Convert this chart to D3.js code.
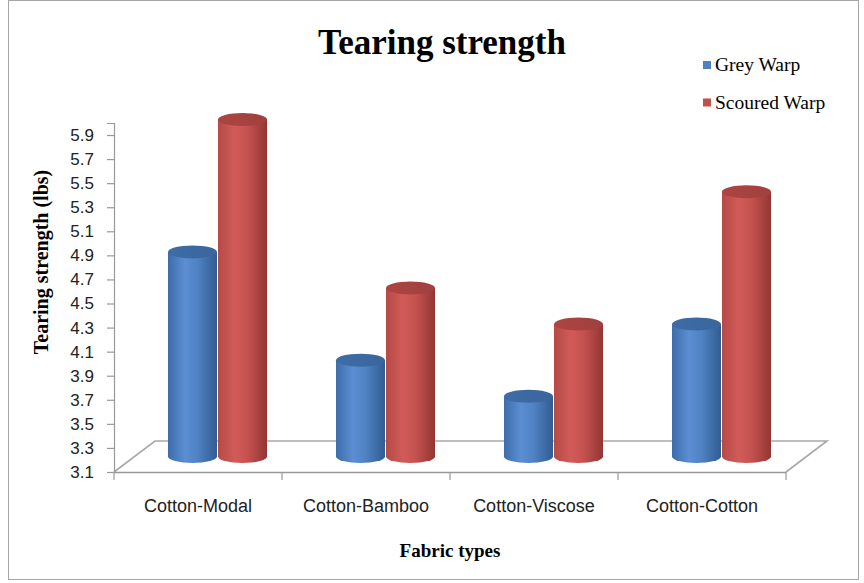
<!DOCTYPE html>
<html>
<head>
<meta charset="utf-8">
<script src="https://cdn.jsdelivr.net/npm/d3@7"></script>
<style>
  body { margin: 0; background: #fff; }
  svg { display: block; }
</style>
</head>
<body>
<div id="chart"></div>
<script>
// data
const fabrics = ["Cotton-Modal", "Cotton-Bamboo", "Cotton-Viscose", "Cotton-Cotton"];
const series = ["Grey Warp", "Scoured Warp"];
const greyWarp = [4.8, 3.9, 3.6, 4.2];
const scouredWarp = [5.9, 4.5, 4.2, 5.3];
const yTicks = [3.1, 3.3, 3.5, 3.7, 3.9, 4.1, 4.3, 4.5, 4.7, 4.9, 5.1, 5.3, 5.5, 5.7, 5.9];

const width = 864, height = 583;
const depth = { dx: 41, dy: -31 };   // floor depth offset
const rx = 24.5, ry = 6.5;

const svg = d3.select("#chart").append("svg")
    .attr("width", width)
    .attr("height", height);

// gradients for cylinders
const defs = svg.append("defs");
function bodyGrad(id, stops) {
    let g = defs.append("linearGradient").attr("id", id)
        .attr("x1", "0%").attr("x2", "100%").attr("y1", "0%").attr("y2", "0%");
    stops.forEach(s => g.append("stop").attr("offset", s[0]).attr("stop-color", s[1]));
}
bodyGrad("blueBody", [["0%", "#3d6caa"], ["35%", "#5b8ed2"], ["60%", "#5083c3"], ["100%", "#305c93"]]);
bodyGrad("redBody", [["0%", "#b54a47"], ["35%", "#d25b58"], ["60%", "#c5524f"], ["100%", "#923634"]]);
bodyGrad("blueTop", [["0%", "#3e6ca5"], ["100%", "#3a669d"]]);
bodyGrad("redTop", [["0%", "#ad4542"], ["100%", "#a0403e"]]);

// chart border
svg.append("rect")
    .attr("x", 8.5).attr("y", 0.5)
    .attr("width", 850).attr("height", 579)
    .attr("fill", "none")
    .attr("stroke", "#a6a6a6");

const x = d3.scaleBand()
    .domain(fabrics)
    .range([114, 786]);

const xs = d3.scaleBand()
    .domain(series)
    .range([-50, 50]);

const y = d3.scaleLinear()
    .domain([3.1, 6.0])
    .range([472, 472 - 14.5 * 24.07]);

// floor
const y0 = y(3.1);
svg.append("path")
    .attr("d", `M${x.range()[0]},${y0} L${x.range()[0] + depth.dx},${y0 + depth.dy} L${x.range()[1] + depth.dx},${y0 + depth.dy} L${x.range()[1]},${y0}`)
    .attr("fill", "none")
    .attr("stroke", "#a8a8a8")
    .attr("stroke-width", 1.6);

// y axis
let yAxis = d3.axisLeft(y)
    .tickValues(yTicks)
    .tickSize(7)
    .tickPadding(13)
    .tickFormat(d3.format(".1f"));

let gy = svg.append("g")
    .attr("class", "axis y-axis")
    .attr("transform", "translate(114,0)")
    .call(yAxis);
gy.select(".domain").attr("stroke", "#999").attr("stroke-width", 1.2);
gy.selectAll(".tick line").attr("stroke", "#999").attr("stroke-width", 1.2);
gy.selectAll(".tick text")
    .style("font-family", "'Liberation Sans', Arial, sans-serif")
    .style("font-size", "17px")
    .attr("fill", "#222");

// x axis
let xAxis = d3.axisBottom(x).tickSize(0).tickPadding(0).tickFormat("");
let gx = svg.append("g")
    .attr("class", "axis x-axis")
    .attr("transform", "translate(0," + y0 + ")")
    .call(xAxis);
gx.select(".domain").attr("stroke", "#999").attr("stroke-width", 1.4);

// x ticks on category boundaries
const bounds = fabrics.map(f => x(f)).concat([x.range()[1]]);
svg.selectAll("line.xtick")
    .data(bounds)
    .enter()
    .append("line")
    .attr("class", "xtick")
    .attr("x1", d => d).attr("x2", d => d)
    .attr("y1", y0).attr("y2", y0 + 8)
    .attr("stroke", "#999")
    .attr("stroke-width", 1.2);

svg.selectAll("text.xlabel")
    .data(fabrics)
    .enter()
    .append("text")
    .attr("class", "xlabel")
    .attr("x", d => x(d) + x.bandwidth() / 2)
    .attr("y", 512)
    .attr("text-anchor", "middle")
    .style("font-family", "'Liberation Sans', Arial, sans-serif")
    .style("font-size", "18px")
    .style("fill", "#222")
    .text(d => d);

// cylinders
let bars = [];
fabrics.forEach((f, i) => {
    bars.push({ fabric: f, s: series[0], v: greyWarp[i], body: "blueBody", top: "blueTop" });
    bars.push({ fabric: f, s: series[1], v: scouredWarp[i], body: "redBody", top: "redTop" });
});

const midDx = depth.dx / 2, midDy = depth.dy / 2;
const cxOf = d => x(d.fabric) + x.bandwidth() / 2 + xs(d.s) + xs.bandwidth() / 2 + midDx - 1;

let cyl = svg.selectAll("g.cyl")
    .data(bars)
    .enter()
    .append("g")
    .attr("class", "cyl");

cyl.append("path")
    .attr("d", d => {
        let cx = cxOf(d);
        let yt = y(d.v) + midDy, yb = y0 + midDy;
        return `M${cx - rx},${yt} L${cx - rx},${yb} A${rx},${ry} 0 0 0 ${cx + rx},${yb} L${cx + rx},${yt} Z`;
    })
    .attr("fill", d => `url(#${d.body})`);

cyl.append("ellipse")
    .attr("cx", cxOf)
    .attr("cy", d => y(d.v) + midDy)
    .attr("rx", rx)
    .attr("ry", ry)
    .attr("fill", d => `url(#${d.top})`);

// title
svg.append("text")
    .attr("x", 442)
    .attr("y", 54)
    .attr("text-anchor", "middle")
    .style("font-family", "'Liberation Serif', 'Times New Roman', serif")
    .style("font-weight", "bold")
    .style("font-size", "35px")
    .style("fill", "#000")
    .text("Tearing strength");

// axis titles
svg.append("text")
    .attr("transform", "translate(48,262) rotate(-90)")
    .attr("text-anchor", "middle")
    .style("font-family", "'Liberation Serif', 'Times New Roman', serif")
    .style("font-weight", "bold")
    .style("font-size", "20px")
    .style("fill", "#000")
    .text("Tearing strength (lbs)");

svg.append("text")
    .attr("x", 450)
    .attr("y", 557)
    .attr("text-anchor", "middle")
    .style("font-family", "'Liberation Serif', 'Times New Roman', serif")
    .style("font-weight", "bold")
    .style("font-size", "19px")
    .style("fill", "#000")
    .text("Fabric types");

// legend
const legendColors = ["#4f81bd", "#c0504d"];
let key = svg.append("g").attr("transform", "translate(703,61)");
series.forEach((s, i) => {
    key.append("rect")
        .attr("x", 0).attr("y", i * 37.5)
        .attr("width", 8).attr("height", 8)
        .attr("fill", legendColors[i]);
    key.append("text")
        .attr("x", 12).attr("y", i * 37.5 + 10)
        .style("font-family", "'Liberation Serif', 'Times New Roman', serif")
        .style("font-size", "19.5px")
        .style("fill", "#000")
        .text(s);
});
</script>
</body>
</html>
